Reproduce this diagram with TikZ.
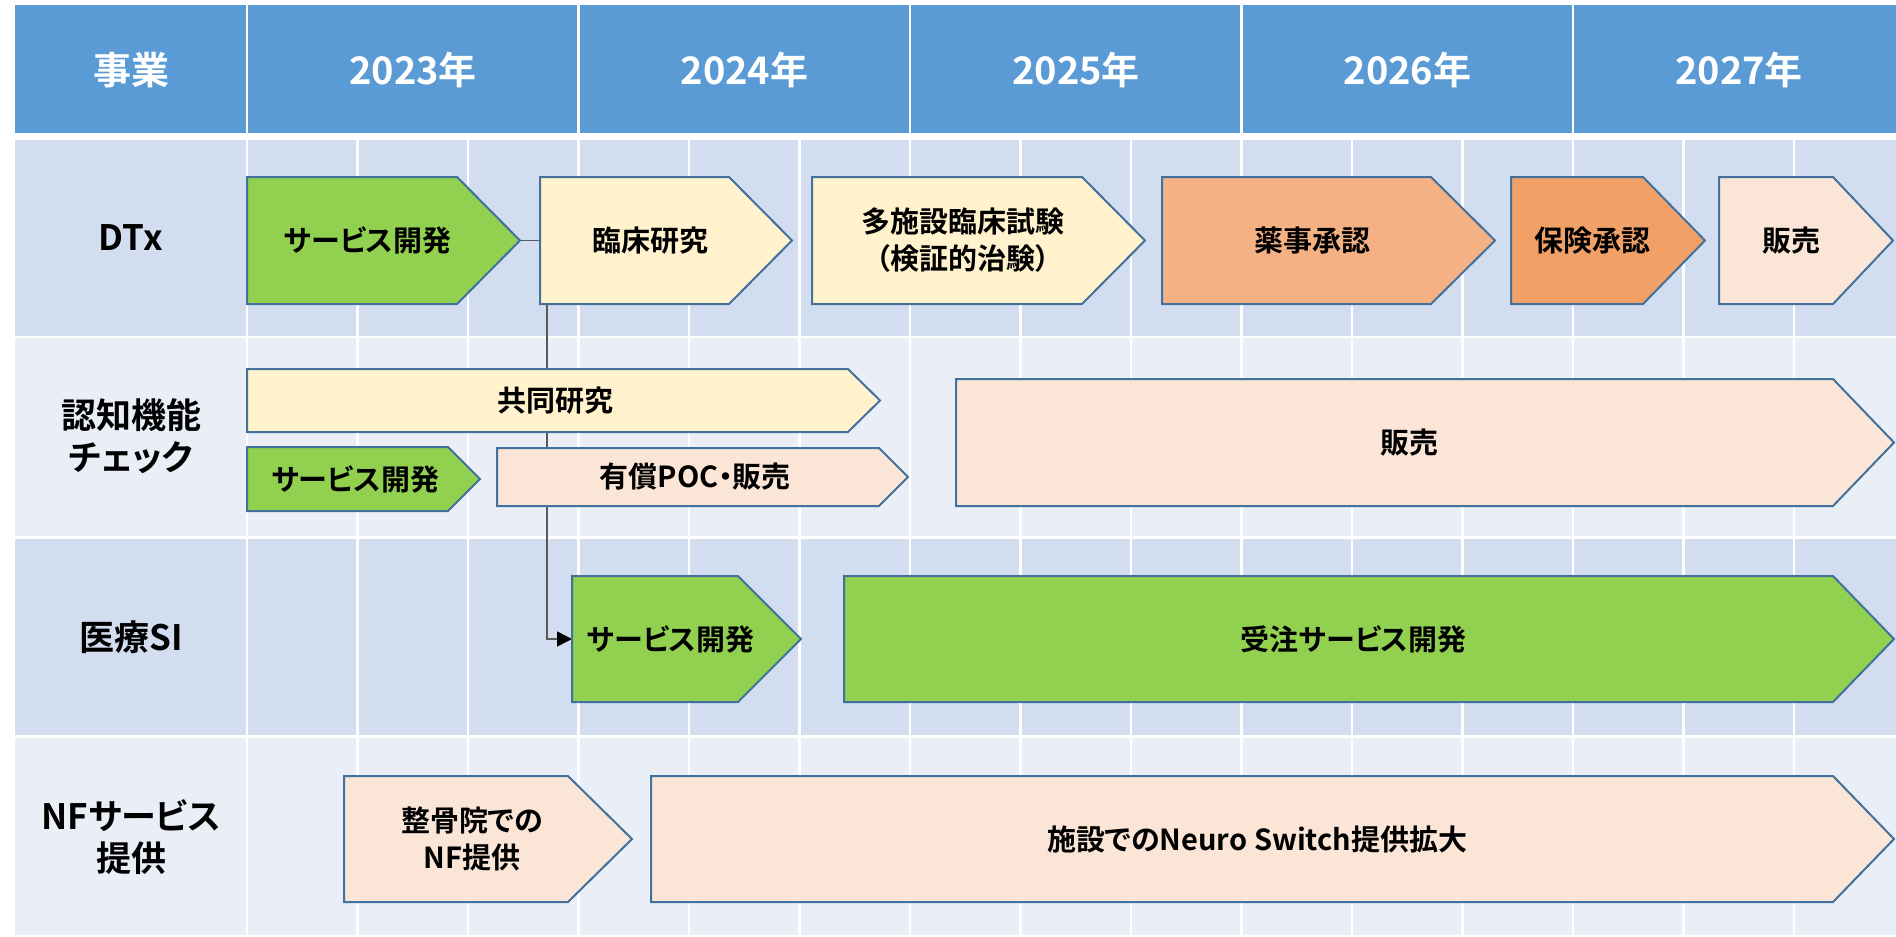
\documentclass[tikz,border=0pt]{standalone}
\usepackage{fontspec}
\setmainfont{Noto Sans CJK JP}[BoldFont={Noto Sans CJK JP Bold},RawFeature={+palt}]
\usetikzlibrary{arrows.meta}
\definecolor{hdr}{HTML}{5B9BD5}
\definecolor{banda}{HTML}{D2DEEF}
\definecolor{bandb}{HTML}{EAEFF7}
\definecolor{edgeblue}{HTML}{41719C}
\definecolor{cgreen}{HTML}{92D050}
\definecolor{cyellow}{HTML}{FFF2CC}
\definecolor{cpeach}{HTML}{FBE5D6}
\definecolor{corange}{HTML}{F4B183}
\definecolor{cdarkor}{HTML}{F1A067}
\definecolor{conngray}{HTML}{595959}
\pgfdeclarelayer{tablebg}
\pgfdeclarelayer{connlayer}
\pgfsetlayers{tablebg,connlayer,main}
\tikzset{
  chevshape/.style={draw=edgeblue,line width=2pt,line join=miter},
  boxtext/.style={font=\fontsize{29}{37}\selectfont\bfseries,text=black,align=center,inner sep=0pt},
  rowlabel/.style={font=\fontsize{35}{42}\selectfont\bfseries,text=black,align=center,inner sep=0pt},
  hdrtext/.style={font=\fontsize{38}{42}\selectfont\bfseries,text=white,align=center,inner sep=0pt},
  gridline/.style={draw=white,line width=2.5pt},
  connector/.style={draw=conngray,line width=1.6pt,-{Triangle[length=15pt,width=15pt,color=black]}}
}
% #1 name, #2 left, #3 top, #4 bottom, #5 tip start, #6 tip, #7 fill, #8 text
\newcommand\chevbox[8]{%
  \path[chevshape,fill=#7] (#2,#3) -- (#5,#3) -- (#6,{(#3+#4)/2}) -- (#5,#4) -- (#2,#4) -- cycle;
  \coordinate (#1-w) at (#2,{(#3+#4)/2});
  \coordinate (#1-e) at (#6,{(#3+#4)/2});
  \node[boxtext] (#1) at ({(#2+(#5+#6)/2)/2},{(#3+#4)/2}) {#8};
}
\begin{document}
\begin{tikzpicture}[x=1pt,y=-1pt]
\useasboundingbox (0,0) rectangle (1896,937);
\clip (0,0) rectangle (1896,937);
\begin{pgfonlayer}{tablebg}
  \fill[white] (0,0) rectangle (1896,937);
  \fill[hdr] (15,5) rectangle (1905,133);
  \foreach \x in {247,578.5,910,1241.5,1573} \draw[gridline] (\x,5) -- (\x,133);
  \fill[banda] (15,140) rectangle (1905,335.5);
  \fill[bandb] (15,337.5) rectangle (1905,536);
  \fill[banda] (15,538.5) rectangle (1905,735);
  \fill[bandb] (15,737.5) rectangle (1905,935);
  \foreach \k in {0,...,14} \draw[gridline] ({247+110.5*\k},140) -- ({247+110.5*\k},935);
\end{pgfonlayer}
% header
\node[hdrtext] (h0) at (131,70) {事業};
\node[hdrtext] (h1) at (413,70) {2023年};
\node[hdrtext] (h2) at (744.5,70) {2024年};
\node[hdrtext] (h3) at (1076,70) {2025年};
\node[hdrtext] (h4) at (1407.5,70) {2026年};
\node[hdrtext] (h5) at (1739,70) {2027年};
% row labels
\node[rowlabel] (r1) at (131,238) {DTx};
\node[rowlabel] (r2) at (131,436) {認知機能\\チェック};
\node[rowlabel] (r3) at (131,637) {医療SI};
\node[rowlabel] (r4) at (131,837) {NFサービス\\提供};
% DTx
\chevbox{dtxsd}{247}{177}{304}{457}{520}{cgreen}{サービス開発}
\chevbox{dtxcr}{540}{177}{304}{729}{792}{cyellow}{臨床研究}
\chevbox{dtxmc}{812}{177}{304}{1082}{1145}{cyellow}{多施設臨床試験\\（検証的治験）}
\chevbox{dtxya}{1162}{177}{304}{1431}{1495}{corange}{薬事承認}
\chevbox{dtxho}{1511}{177}{304}{1643}{1705}{cdarkor}{保険承認}
\chevbox{dtxsl}{1719}{177}{304}{1833}{1893}{cpeach}{販売}
% cognitive check
\chevbox{cgkk}{247}{369}{432}{848}{880}{cyellow}{共同研究}
\chevbox{cgsd}{247}{447}{511}{448}{480}{cgreen}{サービス開発}
\chevbox{cgpoc}{497}{448}{506}{879}{908}{cpeach}{有償POC・販売}
\chevbox{cgsl}{956}{379}{506}{1833}{1894}{cpeach}{販売}
% medical SI
\chevbox{msisd}{572}{576}{702}{738}{801}{cgreen}{サービス開発}
\chevbox{msijc}{844}{576}{702}{1833}{1894}{cgreen}{受注サービス開発}
% NF
\chevbox{nfsk}{344}{776}{902}{568}{632}{cpeach}{整骨院での\\NF提供}
\chevbox{nfns}{651}{776}{902}{1833}{1894}{cpeach}{施設でのNeuro Switch提供拡大}
% connector (behind boxes)
\coordinate (elbow) at (547,639);
\begin{pgfonlayer}{connlayer}
  \draw[connector] (dtxsd-e) -| (elbow) -- (msisd-w);
\end{pgfonlayer}
\end{tikzpicture}
\end{document}
